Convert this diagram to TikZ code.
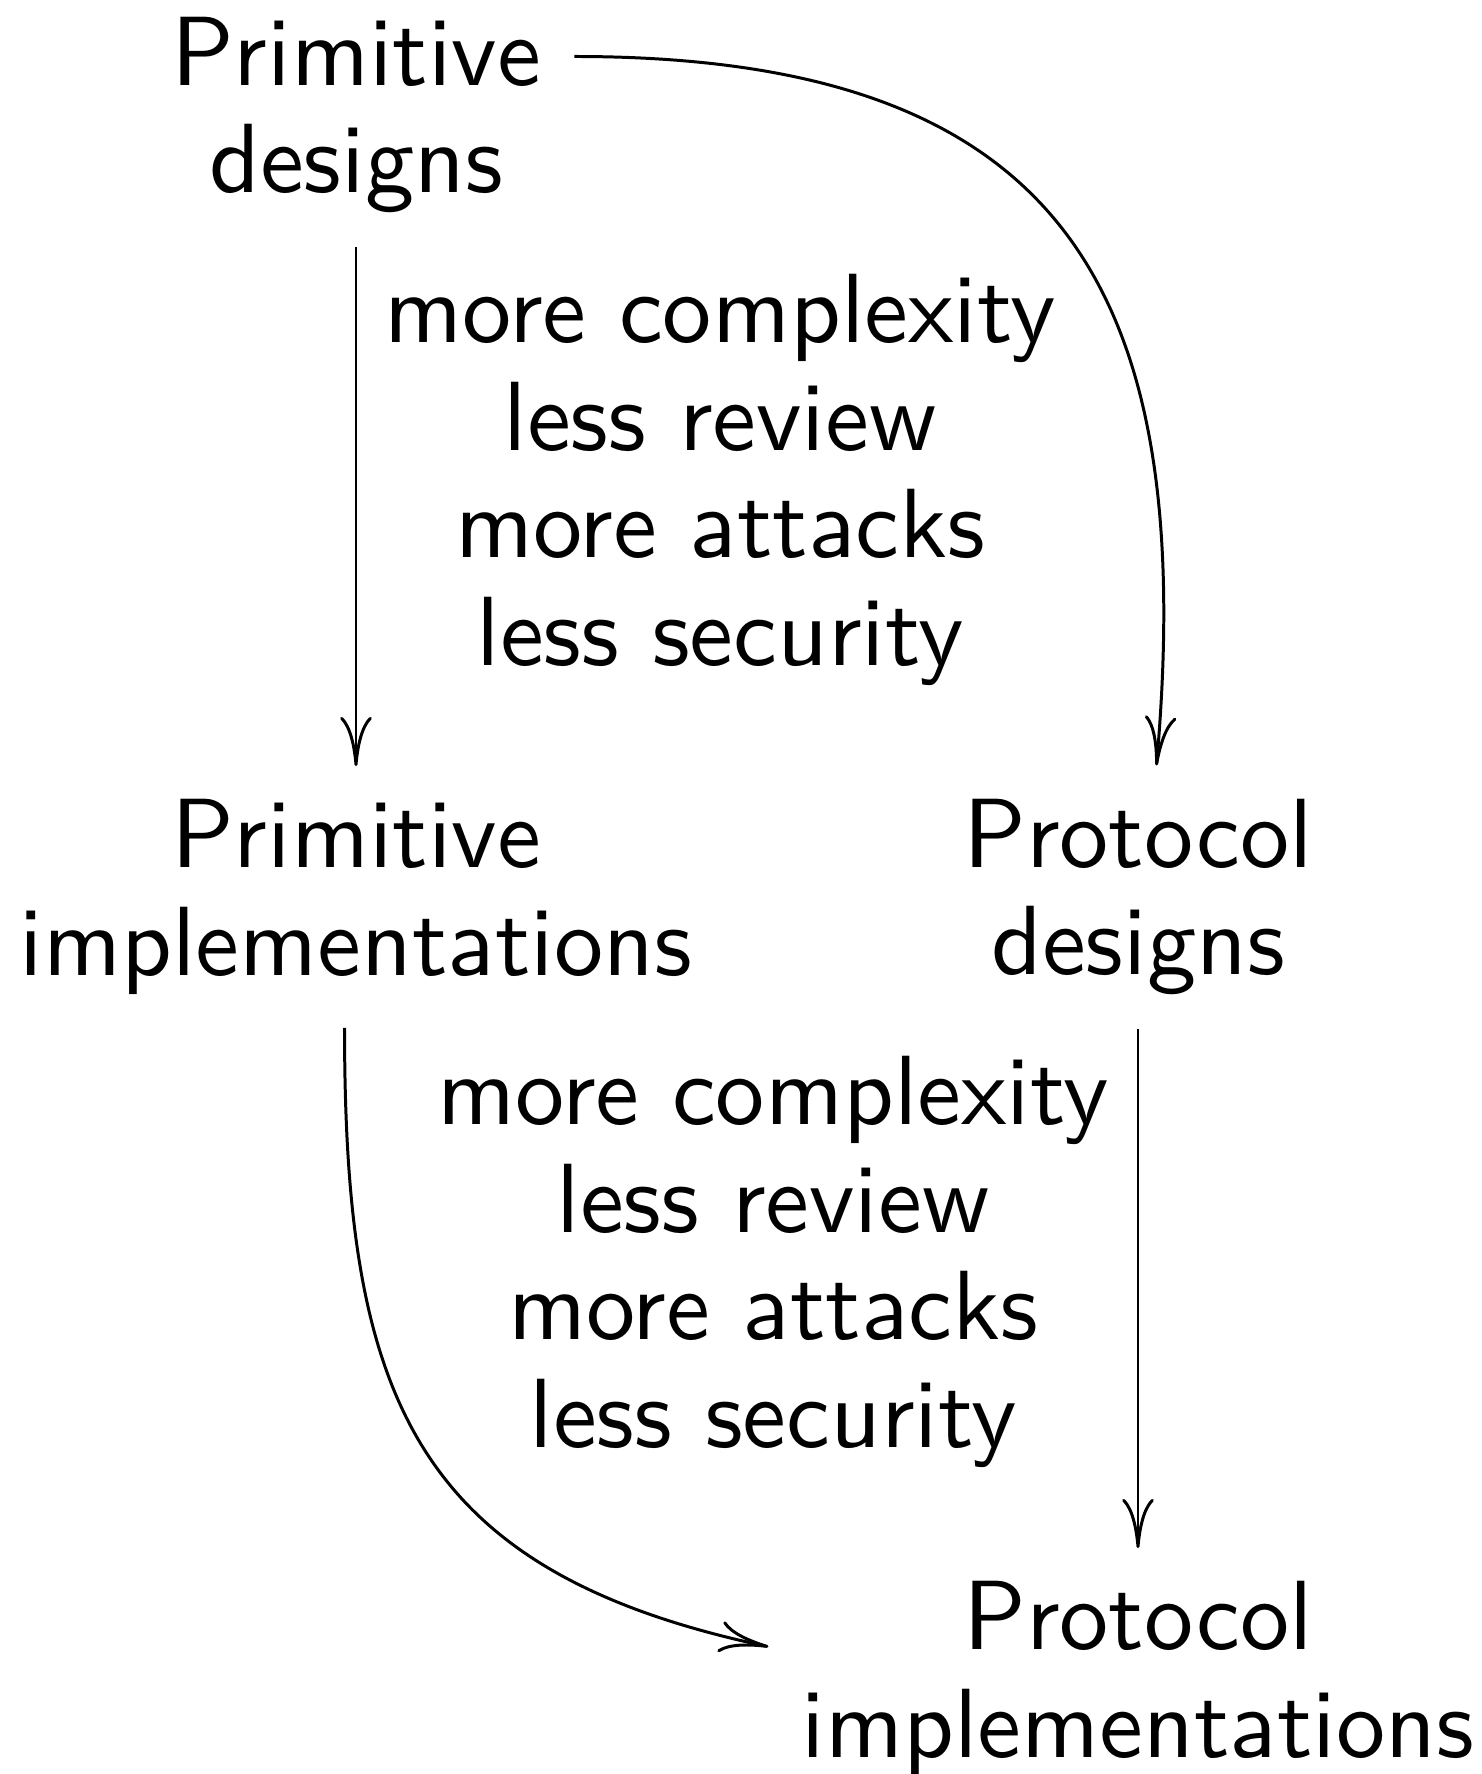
\documentclass[tikz,border=0pt]{standalone}
\usepackage{fontspec}
\newfontfamily\tensans{lmsans10-regular.otf}
\usetikzlibrary{arrows.meta}

\begin{document}
\begin{tikzpicture}[
  >={Computer Modern Rightarrow[length=14pt,width=9pt]},
  line width=0.85pt,
  box/.style={align=center, inner sep=0.32cm, font=\tensans\fontsize{28}{30.6}\selectfont},
  note/.style={box}
]
\useasboundingbox (0,0) rectangle (14.82,-17.74);

% --- Primitives ---
\node[box] (pdes)  at (3.56,-1.15) {Primitive\\designs};
\node[box] (pimpl) at (3.56,-8.97) {Primitive\\implementations};

% --- Protocols ---
\node[box] (protdes)  at (11.38,-8.97)  {Protocol\\designs};
\node[box] (protimpl) at (11.38,-16.79) {Protocol\\implementations};

% --- Straight arrows ---
\draw[->] (pdes) -- (pimpl);
\draw[->] (protdes) -- (protimpl);

% --- Curved arrows ---
\draw[->] (pdes.15) to[out=0, in=85, looseness=1.35] (protdes.82);
\draw[->] (pimpl.-95) to[out=-90, in=168, looseness=1.25] (protimpl.175);

% --- Labels ---
\node[note] (notea) at (7.20,-4.80)  {more complexity\\less review\\more attacks\\less security};
\node[note] (noteb) at (7.73,-12.62) {more complexity\\less review\\more attacks\\less security};

\end{tikzpicture}
\end{document}
